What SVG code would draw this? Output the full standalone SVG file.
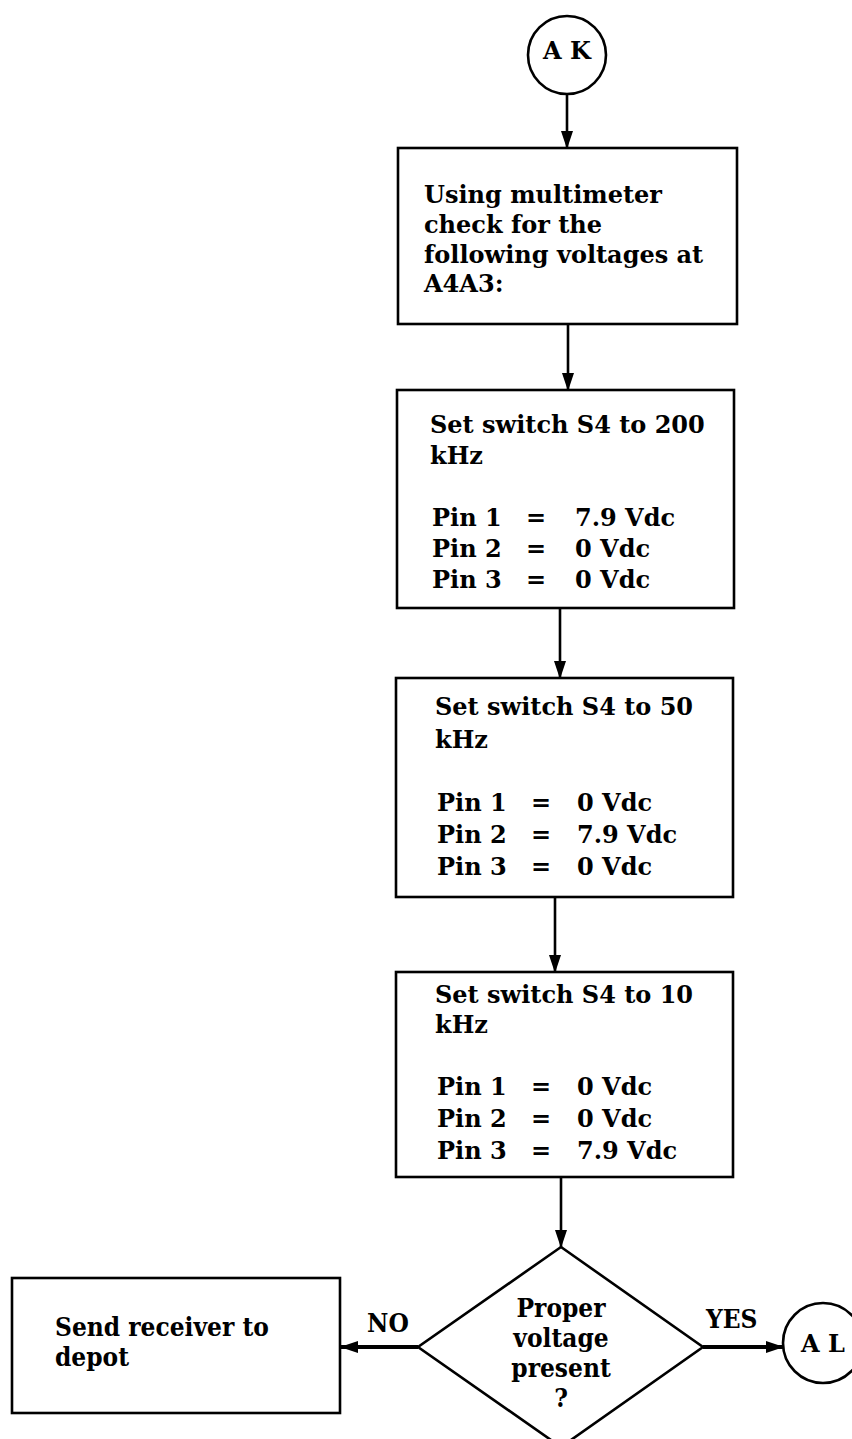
<svg xmlns="http://www.w3.org/2000/svg" width="852" height="1439" viewBox="0 0 852 1439">
<defs>
<marker id="ah" markerWidth="18" markerHeight="12" refX="17" refY="6" orient="auto" markerUnits="userSpaceOnUse">
<path d="M0,0 L18,6 L0,12 Z" fill="#000"/>
</marker>
<style>
.box{fill:#fff;stroke:#000;stroke-width:2.6}
.t{font-family:"DejaVu Serif","Liberation Serif",serif;font-size:24px;font-weight:bold;fill:#000}
.b{font-family:"DejaVu Serif Condensed","DejaVu Serif","Liberation Serif",serif;font-size:26px;font-weight:bold;fill:#000}
.c{text-anchor:middle}
.ln{stroke:#000;stroke-width:2.6;fill:none}
.lnh{stroke:#000;stroke-width:4;fill:none}
</style>
</defs>
<rect width="852" height="1439" fill="#fff"/>
<g id="connectors">
<line class="ln" x1="567" y1="94" x2="567" y2="148" marker-end="url(#ah)"/>
<line class="ln" x1="568" y1="324" x2="568" y2="390" marker-end="url(#ah)"/>
<line class="ln" x1="560" y1="608" x2="560" y2="678" marker-end="url(#ah)"/>
<line class="ln" x1="555" y1="897" x2="555" y2="972" marker-end="url(#ah)"/>
<line class="ln" x1="561" y1="1177" x2="561" y2="1247" marker-end="url(#ah)"/>
<line class="lnh" x1="418" y1="1347" x2="341" y2="1347" marker-end="url(#ah)"/>
<line class="lnh" x1="703" y1="1347" x2="783" y2="1347" marker-end="url(#ah)"/>
<text class="b" x="367" y="1332">NO</text>
<text class="b" x="706" y="1328">YES</text>
</g>
<g id="ak">
<circle cx="567" cy="55" r="39" fill="#fff" stroke="#000" stroke-width="2.6"/>
<text class="t c" x="567" y="59">A K</text>
</g>
<g id="box1">
<rect class="box" x="398" y="148" width="339" height="176"/>
<text class="t" x="424" y="203">Using multimeter</text>
<text class="t" x="424" y="233">check for the</text>
<text class="t" x="424" y="263">following voltages at</text>
<text class="t" x="424" y="292">A4A3:</text>
</g>
<g id="box2">
<rect class="box" x="397" y="390" width="337" height="218"/>
<text class="t" x="430" y="433">Set switch S4 to 200</text>
<text class="t" x="430" y="464">kHz</text>
<text class="t" x="432" y="526">Pin 1</text><text class="t" x="526" y="526">=</text><text class="t" x="575" y="526">7.9 Vdc</text>
<text class="t" x="432" y="557">Pin 2</text><text class="t" x="526" y="557">=</text><text class="t" x="575" y="557">0 Vdc</text>
<text class="t" x="432" y="588">Pin 3</text><text class="t" x="526" y="588">=</text><text class="t" x="575" y="588">0 Vdc</text>
</g>
<g id="box3">
<rect class="box" x="396" y="678" width="337" height="219"/>
<text class="t" x="435" y="715">Set switch S4 to 50</text>
<text class="t" x="435" y="748">kHz</text>
<text class="t" x="437" y="811">Pin 1</text><text class="t" x="531" y="811">=</text><text class="t" x="577" y="811">0 Vdc</text>
<text class="t" x="437" y="843">Pin 2</text><text class="t" x="531" y="843">=</text><text class="t" x="577" y="843">7.9 Vdc</text>
<text class="t" x="437" y="875">Pin 3</text><text class="t" x="531" y="875">=</text><text class="t" x="577" y="875">0 Vdc</text>
</g>
<g id="box4">
<rect class="box" x="396" y="972" width="337" height="205"/>
<text class="t" x="435" y="1003">Set switch S4 to 10</text>
<text class="t" x="435" y="1033">kHz</text>
<text class="t" x="437" y="1095">Pin 1</text><text class="t" x="531" y="1095">=</text><text class="t" x="577" y="1095">0 Vdc</text>
<text class="t" x="437" y="1127">Pin 2</text><text class="t" x="531" y="1127">=</text><text class="t" x="577" y="1127">0 Vdc</text>
<text class="t" x="437" y="1159">Pin 3</text><text class="t" x="531" y="1159">=</text><text class="t" x="577" y="1159">7.9 Vdc</text>
</g>
<g id="decision">
<polygon points="561,1247 703,1347 561,1447 418,1347" fill="#fff" stroke="#000" stroke-width="2.6"/>
<text class="b c" x="561" y="1317">Proper</text>
<text class="b c" x="561" y="1347">voltage</text>
<text class="b c" x="561" y="1377">present</text>
<text class="b c" x="561" y="1407">?</text>
</g>
<g id="send">
<rect class="box" x="12" y="1278" width="328" height="135"/>
<text class="b" x="55" y="1336">Send receiver to</text>
<text class="b" x="55" y="1366">depot</text>
</g>
<g id="al">
<circle cx="823" cy="1343" r="40" fill="#fff" stroke="#000" stroke-width="2.6"/>
<text class="t c" x="823" y="1352">A L</text>
</g>
</svg>
